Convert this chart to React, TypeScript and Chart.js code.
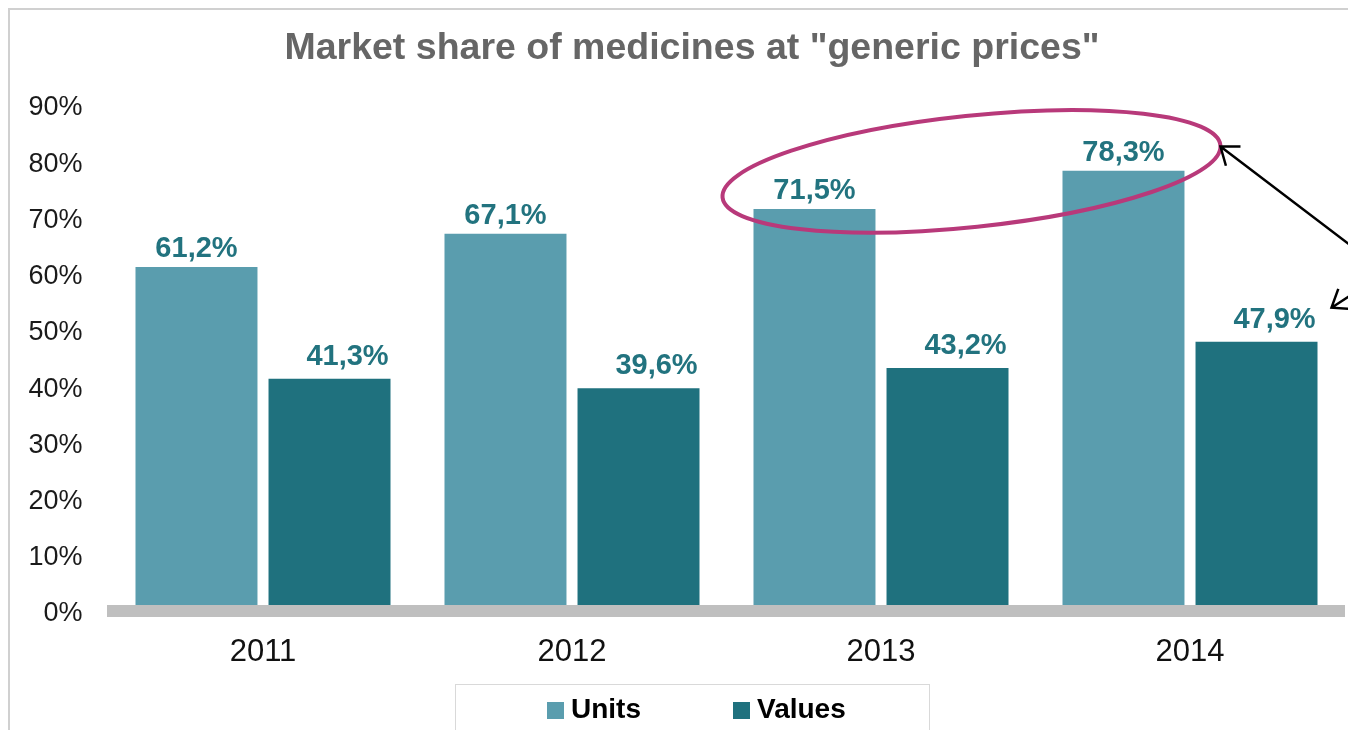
import React, { useEffect, useRef } from 'react';
import { Chart, registerables } from 'chart.js';

Chart.register(...registerables);

// ---- data ----
const years = ['2011', '2012', '2013', '2014'];
const unitsShare = [61.2, 67.1, 71.5, 78.3];
const valuesShare = [41.3, 39.6, 43.2, 47.9];
const seriesNames = ['Units', 'Values'];
const seriesColors = ['#5a9dae', '#1f717e'];
const yMin = 0;
const yMax = 90;
const yStep = 10;
const titleText = 'Market share of medicines at "generic prices"';

const FONT = '"Liberation Sans", Arial, Helvetica, sans-serif';
const fmt = (v: number) => v.toFixed(1).replace('.', ',') + '%';

// chart title (drawn centred over the framed chart)
const titlePlugin = {
  id: 'centredTitle',
  afterDraw(chart: any) {
    const { ctx } = chart;
    ctx.save();
    ctx.font = `bold 37.5px ${FONT}`;
    ctx.fillStyle = '#666666';
    ctx.textAlign = 'center';
    ctx.textBaseline = 'middle';
    ctx.fillText(titleText, 682, 39);
    ctx.restore();
  },
};

// baseline (thick grey axis line)
const baselinePlugin = {
  id: 'baseline',
  afterDatasetsDraw(chart: any) {
    const { ctx, chartArea } = chart;
    const y0 = chart.scales.y.getPixelForValue(0);
    ctx.save();
    ctx.fillStyle = '#bfbfbf';
    ctx.fillRect(chartArea.left - 1.5, y0 - 6, chartArea.right - chartArea.left + 2, 12);
    ctx.restore();
  },
};

// value labels above bars
const labelOffsets = [
  { dx: 0, gap: 10 },
  { dx: 18, gap: 14 },
];
const dataLabelPlugin = {
  id: 'dataLabels',
  afterDatasetsDraw(chart: any) {
    const { ctx } = chart;
    ctx.save();
    ctx.font = `bold 29px ${FONT}`;
    ctx.fillStyle = '#22737f';
    ctx.textAlign = 'center';
    ctx.textBaseline = 'alphabetic';
    chart.data.datasets.forEach((ds: any, i: number) => {
      const meta = chart.getDatasetMeta(i);
      meta.data.forEach((bar: any, j: number) => {
        const off = labelOffsets[i];
        ctx.fillText(fmt(ds.data[j]), bar.x + off.dx, bar.y - off.gap);
      });
    });
    ctx.restore();
  },
};

function drawArrow(ctx: any, tail: number[], tip: number[]) {
  const ang = Math.atan2(tail[1] - tip[1], tail[0] - tip[0]);
  const head = 20;
  const spread = (37 * Math.PI) / 180;
  ctx.beginPath();
  ctx.moveTo(tail[0], tail[1]);
  ctx.lineTo(tip[0], tip[1]);
  ctx.moveTo(tip[0] + head * Math.cos(ang - spread), tip[1] + head * Math.sin(ang - spread));
  ctx.lineTo(tip[0], tip[1]);
  ctx.lineTo(tip[0] + head * Math.cos(ang + spread), tip[1] + head * Math.sin(ang + spread));
  ctx.stroke();
}

// ellipse + arrows annotation
const annotationPlugin = {
  id: 'annot',
  afterDraw(chart: any) {
    const { ctx } = chart;
    const units = chart.getDatasetMeta(0).data;
    const valuesBars = chart.getDatasetMeta(1).data;
    const yS = chart.scales.y;
    const cx = (units[2].x + units[3].x) / 2 + 2.5;
    const cy = yS.getPixelForValue(78.2);
    const a = 250.3;
    const b = 55.7;
    const th = (-6 * Math.PI) / 180;
    ctx.save();
    ctx.strokeStyle = '#b8397a';
    ctx.lineWidth = 4;
    ctx.beginPath();
    ctx.ellipse(cx, cy, a, b, th, 0, Math.PI * 2);
    ctx.stroke();

    // rightmost point of the ellipse
    const c = Math.cos(th);
    const s = Math.sin(th);
    const hh = Math.sqrt(a * a * c * c + b * b * s * s);
    const tip1 = [cx + hh, cy + ((a * a - b * b) * s * c) / hh];
    const W = chart.width;
    ctx.strokeStyle = '#000';
    ctx.lineWidth = 2.5;
    drawArrow(ctx, [W, tip1[1] + 103], tip1);
    const vb = valuesBars[3];
    const tip2 = [vb.x + vb.width / 2 + 14, yS.getPixelForValue(47.9) - 34];
    drawArrow(ctx, [W, tip2[1] - 16], tip2);
    ctx.restore();
  },
};

// custom legend in a framed box
const legendPlugin = {
  id: 'boxLegend',
  afterDraw(chart: any) {
    const { ctx } = chart;
    const box = { x: 445, y: 674, w: 474, h: 51 };
    ctx.save();
    ctx.strokeStyle = '#d9d9d9';
    ctx.lineWidth = 1;
    ctx.strokeRect(box.x + 0.5, box.y + 0.5, box.w, box.h);
    ctx.font = `bold 28px ${FONT}`;
    ctx.textAlign = 'left';
    ctx.textBaseline = 'alphabetic';
    let x = 537;
    chart.data.datasets.forEach((ds: any) => {
      ctx.fillStyle = ds.backgroundColor;
      ctx.fillRect(x, 692, 17, 17);
      ctx.fillStyle = '#000';
      ctx.fillText(ds.label, x + 24, 708);
      x += 24 + ctx.measureText(ds.label).width + 92;
    });
    ctx.restore();
  },
};

export default function App() {
  const ref = useRef<HTMLCanvasElement | null>(null);

  useEffect(() => {
    if (!ref.current) return;
    const chart = new Chart(ref.current, {
      type: 'bar',
      data: {
        labels: years,
        datasets: [
          {
            label: seriesNames[0],
            data: unitsShare,
            backgroundColor: seriesColors[0],
            barPercentage: 0.917,
            categoryPercentage: 0.861,
          },
          {
            label: seriesNames[1],
            data: valuesShare,
            backgroundColor: seriesColors[1],
            barPercentage: 0.917,
            categoryPercentage: 0.861,
          },
        ],
      },
      options: {
        responsive: false,
        animation: false,
        devicePixelRatio: 1,
        layout: { padding: { left: 0, right: 11.5, top: 95, bottom: 0 } },
        plugins: {
          legend: { display: false },
          tooltip: { enabled: false },
          title: { display: false },
        },
        scales: {
          x: {
            grid: { display: false, drawTicks: false },
            border: { display: false },
            ticks: { color: '#111', font: { family: FONT, size: 31 }, padding: 23 },
            afterFit: (s: any) => {
              s.height = 127;
            },
          },
          y: {
            min: yMin,
            max: yMax,
            grid: { display: false, drawTicks: false },
            border: { display: false },
            ticks: {
              stepSize: yStep,
              color: '#1a1a1a',
              font: { family: FONT, size: 27 },
              padding: 26,
              labelOffset: 3,
              callback: (v: any) => v + '%',
            },
            afterFit: (s: any) => {
              s.width = 98.5;
            },
          },
        },
      },
      plugins: [baselinePlugin, dataLabelPlugin, annotationPlugin, legendPlugin, titlePlugin],
    } as any);
    return () => chart.destroy();
  }, []);

  return (
    <div
      style={{
        borderLeft: '2px solid #d0d0d0',
        borderTop: '2px solid #d0d0d0',
        width: 1346,
        height: 728,
        marginBottom: -8,
        background: '#fff',
      }}
    >
      <canvas ref={ref} width={1346} height={728} style={{ display: 'block' }} />
    </div>
  );
}
